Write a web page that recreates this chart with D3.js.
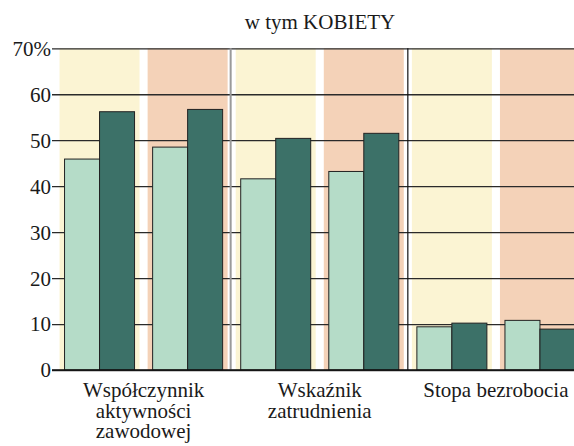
<!DOCTYPE html>
<html><head><meta charset="utf-8">
<script src="https://cdn.jsdelivr.net/npm/d3@7"></script>
<style>
html,body{margin:0;padding:0;background:#fff;}
svg{display:block;}
</style></head>
<body>
<svg id="chart" width="574" height="446"></svg>
<script>
const title = "w tym KOBIETY";
const subgroups = ["g1a","g1b","g2a","g2b","g3a","g3b"];
const bandKinds = ["yellow","salmon","yellow","salmon","yellow","salmon"];
const groupLabels = [["Współczynnik","aktywności","zawodowej"],["Wskaźnik","zatrudnienia"],["Stopa bezrobocia"]];
const seriesNames = ["s1","s2"];
const lightValues = [45.9, 48.5, 41.6, 43.2, 9.4, 10.8];
const darkValues = [56.2, 56.7, 50.4, 51.5, 10.2, 8.9];
const yTicks = [0,10,20,30,40,50,60,70];
const yTickLabels = ["0","10","20","30","40","50","60","70%"];

const FONT = "'Liberation Serif', 'Times New Roman', serif";
const svg = d3.select("#chart");
const x = d3.scaleBand().domain(subgroups).range([55.5, 584]).padding(0);
const y = d3.scaleLinear().domain([0,70]).range([370, 48.3]);
const xs = d3.scaleBand().domain(seriesNames).range([-35, 35]).padding(0);
const bandColor = {yellow:"#FBF4D3", salmon:"#F4D2B8"};
const seriesColor = {s1:"#B5DCC8", s2:"#3C7168"};

// background bands
svg.append("g").selectAll("rect").data(subgroups).join("rect")
  .attr("x", d => x(d) + x.bandwidth()/2 - 40)
  .attr("width", 80)
  .attr("y", y(70))
  .attr("height", y(0) - y(70))
  .attr("fill", (d,i) => bandColor[bandKinds[i]]);

// gridlines + tick labels
const yAxis = d3.axisLeft(y).tickValues(yTicks).tickSize(-(574-52)).tickFormat((d,i)=>yTickLabels[i]).tickPadding(1);
const ga = svg.append("g").attr("transform","translate(52,0)").call(yAxis);
ga.attr("font-family", null);
ga.select(".domain").remove();
ga.selectAll(".tick line").attr("stroke","#2a2a2a").attr("stroke-width",1.3);
ga.selectAll(".tick text").attr("font-size",21).attr("fill","#1a1a1a")
  .style("font-family", FONT).attr("dy","0.33em");

// separators
const b1 = x("g2a");
const b2 = x("g3a");
svg.append("line").attr("x1", b1-1).attr("x2", b1-1).attr("y1", y(70)).attr("y2", y(0))
  .attr("stroke","#9a9a9a").attr("stroke-width",2);
svg.append("line").attr("x1", b2).attr("x2", b2).attr("y1", y(70)).attr("y2", y(0))
  .attr("stroke","#111").attr("stroke-width",1.2);

// bars
const rows = subgroups.map((g,i)=>({g, vals:[{k:"s1",v:lightValues[i]},{k:"s2",v:darkValues[i]}]}));
const gg = svg.append("g").selectAll("g").data(rows).join("g")
  .attr("transform", d => `translate(${x(d.g)+x.bandwidth()/2},0)`);
gg.selectAll("rect").data(d=>d.vals).join("rect")
  .attr("x", d => xs(d.k))
  .attr("width", xs.bandwidth())
  .attr("y", d => y(d.v))
  .attr("height", d => y(0) - y(d.v))
  .attr("fill", d => seriesColor[d.k])
  .attr("stroke","#222").attr("stroke-width",1);

// zero line
svg.append("line").attr("x1",52).attr("x2",574).attr("y1",y(0)).attr("y2",y(0))
  .attr("stroke","#111").attr("stroke-width",1.5);

// group labels (one text element per line)
const groupCenters = [0,1,2].map(i => (x(subgroups[2*i]) + x(subgroups[2*i+1]) + x.bandwidth())/2);
groupLabels.forEach((lines,i)=>{
  lines.forEach((ln,j)=> svg.append("text")
    .attr("text-anchor","middle").attr("font-size",21).attr("fill","#1a1a1a")
    .style("font-family", FONT)
    .attr("x", groupCenters[i]).attr("y", 397 + j*20.5).text(ln));
});

// title
svg.append("text").attr("x",320).attr("y",29).attr("text-anchor","middle")
  .style("font-family", FONT)
  .attr("font-size",21).attr("fill","#1a1a1a").text(title);
</script>
</body></html>
